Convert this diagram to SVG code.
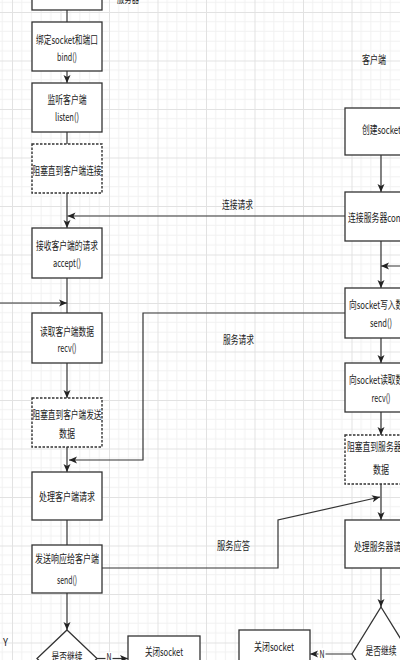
<svg xmlns="http://www.w3.org/2000/svg" width="400" height="660" viewBox="0 0 400 660">
<defs>
<pattern id="grid" patternUnits="userSpaceOnUse" x="12" y="12" width="48.5" height="48.5">
<path d="M9.7,0V48.5M19.4,0V48.5M29.1,0V48.5M38.8,0V48.5M0,9.7H48.5M0,19.4H48.5M0,29.1H48.5M0,38.8H48.5" stroke="#f1f1f1" stroke-width="1" fill="none"/>
<path d="M0.5,0V48.5M0,0.5H48.5" stroke="#e2e2e2" stroke-width="1" fill="none"/>
</pattern>
<marker id="arr" markerUnits="userSpaceOnUse" markerWidth="9" markerHeight="8" refX="8" refY="4" orient="auto">
<path d="M0,0.5 L8,4 L0,7.5 L2,4 Z" fill="#222"/>
</marker>
<style>
.box{fill:#fff;stroke:#333;stroke-width:1.3}
.dash{fill:#fff;stroke:#333;stroke-width:1.4;stroke-dasharray:2.5 1.5}
.ln{fill:none;stroke:#333;stroke-width:1.2}
.ar{fill:none;stroke:#333;stroke-width:1.2;marker-end:url(#arr)}
text{font-family:"Noto Sans CJK SC","Noto Sans",sans-serif;font-size:11px;fill:#1a1a1a;text-anchor:middle}
.st{text-anchor:start}
</style>
</defs>
<rect width="400" height="660" fill="#fff"/>
<rect width="400" height="660" fill="url(#grid)"/>

<g id="connectors">
<path class="ln" d="M67,10V22"/>
<path class="ar" d="M67,71V83"/>
<path class="ln" d="M67,132V144"/>
<path class="ar" d="M67,193V228"/>
<path class="ln" d="M67,278V313"/>
<path class="ar" d="M67,363V398"/>
<path class="ar" d="M67,447V472"/>
<path class="ln" d="M67,520V545"/>
<path class="ar" d="M67,593V630"/>
<path class="ar" d="M97,658.5H128"/>
<path class="ar" d="M67,688V700H-10V303H67"/>
<path class="ar" d="M381,155V192"/>
<path class="ar" d="M381,241V288"/>
<path class="ar" d="M381,338V363"/>
<path class="ar" d="M381,412V435"/>
<path class="ar" d="M381,484V520"/>
<path class="ar" d="M381,568V607"/>
<path class="ar" d="M352,654H310"/>
<path class="ar" d="M410,654H425V266H381"/>
<path class="ar" d="M345,216H67.5"/>
<path class="ar" d="M345,313H143V460H69"/>
<path class="ar" d="M102,568H278V520L380,497"/>
<text class="st" x="222" y="209" textLength="31" lengthAdjust="spacingAndGlyphs">连接请求</text>
<text class="st" x="223" y="344" textLength="31" lengthAdjust="spacingAndGlyphs">服务请求</text>
<text class="st" x="217" y="550" textLength="33" lengthAdjust="spacingAndGlyphs">服务应答</text>
<rect x="105.5" y="652" width="7" height="10" fill="#fff"/>
<text x="109" y="661" textLength="5" lengthAdjust="spacingAndGlyphs">N</text>
<rect x="318.5" y="648" width="7" height="10" fill="#fff"/>
<text x="322" y="658" textLength="5" lengthAdjust="spacingAndGlyphs">N</text>
<text x="5.5" y="646" textLength="5" lengthAdjust="spacingAndGlyphs">Y</text>
</g>

<g id="server-label"><text class="st" x="117" y="3" textLength="22" lengthAdjust="spacingAndGlyphs">服务器</text></g>
<g id="client-label"><text x="374" y="64" textLength="24" lengthAdjust="spacingAndGlyphs">客户端</text></g>

<g id="s-socket"><rect class="box" x="32" y="-40" width="70" height="50"/></g>
<g id="s-bind"><rect class="box" x="32" y="22" width="70" height="49"/>
<text x="67" y="43.5" textLength="62" lengthAdjust="spacingAndGlyphs">绑定socket和端口</text>
<text x="67" y="61" textLength="20" lengthAdjust="spacingAndGlyphs">bind()</text></g>
<g id="s-listen"><rect class="box" x="32" y="83" width="70" height="49"/>
<text x="67" y="104" textLength="39" lengthAdjust="spacingAndGlyphs">监听客户端</text>
<text x="67" y="121" textLength="24" lengthAdjust="spacingAndGlyphs">listen()</text></g>
<g id="s-block-conn"><rect class="dash" x="32" y="144" width="70" height="49"/>
<text x="67" y="175" textLength="69" lengthAdjust="spacingAndGlyphs">阻塞直到客户端连接</text></g>
<g id="s-accept"><rect class="box" x="32" y="228" width="70" height="50"/>
<text x="67" y="250" textLength="62" lengthAdjust="spacingAndGlyphs">接收客户端的请求</text>
<text x="67" y="267" textLength="28" lengthAdjust="spacingAndGlyphs">accept()</text></g>
<g id="s-recv"><rect class="box" x="32" y="313" width="70" height="50"/>
<text x="67" y="336" textLength="54" lengthAdjust="spacingAndGlyphs">读取客户端数据</text>
<text x="67" y="352" textLength="19" lengthAdjust="spacingAndGlyphs">recv()</text></g>
<g id="s-block-data"><rect class="dash" x="32" y="398" width="70" height="49"/>
<text x="67" y="419" textLength="69" lengthAdjust="spacingAndGlyphs">阻塞直到客户端发送</text>
<text x="67" y="438" textLength="16" lengthAdjust="spacingAndGlyphs">数据</text></g>
<g id="s-process"><rect class="box" x="32" y="472" width="70" height="48"/>
<text x="67" y="501" textLength="56" lengthAdjust="spacingAndGlyphs">处理客户端请求</text></g>
<g id="s-send"><rect class="box" x="32" y="545" width="70" height="48"/>
<text x="67" y="563" textLength="64" lengthAdjust="spacingAndGlyphs">发送响应给客户端</text>
<text x="67" y="584" textLength="20" lengthAdjust="spacingAndGlyphs">send()</text></g>
<g id="s-continue"><path class="box" d="M67,630L97,658.5L67,688L37,658.5Z"/>
<text x="67" y="661" textLength="31" lengthAdjust="spacingAndGlyphs">是否继续</text></g>
<g id="s-close"><rect class="box" x="128" y="636" width="72" height="50"/>
<text x="164" y="656" textLength="38" lengthAdjust="spacingAndGlyphs">关闭socket</text></g>

<g id="c-socket"><rect class="box" x="345" y="108" width="72" height="47"/>
<text class="st" x="362" y="134" textLength="39" lengthAdjust="spacingAndGlyphs">创建socket</text></g>
<g id="c-connect"><rect class="box" x="345" y="192" width="72" height="49"/>
<text class="st" x="348" y="222" textLength="74" lengthAdjust="spacingAndGlyphs">连接服务器connect()</text></g>
<g id="c-send"><rect class="box" x="345" y="288" width="72" height="50"/>
<text class="st" x="349" y="309" textLength="62" lengthAdjust="spacingAndGlyphs">向socket写入数据</text>
<text x="381" y="327" textLength="22" lengthAdjust="spacingAndGlyphs">send()</text></g>
<g id="c-recv"><rect class="box" x="345" y="363" width="72" height="49"/>
<text class="st" x="349" y="384" textLength="62" lengthAdjust="spacingAndGlyphs">向socket读取数据</text>
<text x="381" y="402" textLength="19" lengthAdjust="spacingAndGlyphs">recv()</text></g>
<g id="c-block"><rect class="dash" x="345" y="435" width="72" height="49"/>
<text class="st" x="347" y="451" textLength="70" lengthAdjust="spacingAndGlyphs">阻塞直到服务器发送</text>
<text x="381" y="474" textLength="16" lengthAdjust="spacingAndGlyphs">数据</text></g>
<g id="c-process"><rect class="box" x="345" y="520" width="72" height="48"/>
<text class="st" x="354" y="551" textLength="55" lengthAdjust="spacingAndGlyphs">处理服务器请求</text></g>
<g id="c-continue"><path class="box" d="M381,607L410,654L381,701L352,654Z"/>
<text x="381" y="655" textLength="31" lengthAdjust="spacingAndGlyphs">是否继续</text></g>
<g id="c-close"><rect class="box" x="239" y="630" width="71" height="50"/>
<text x="274" y="651" textLength="40" lengthAdjust="spacingAndGlyphs">关闭socket</text></g>
</svg>
